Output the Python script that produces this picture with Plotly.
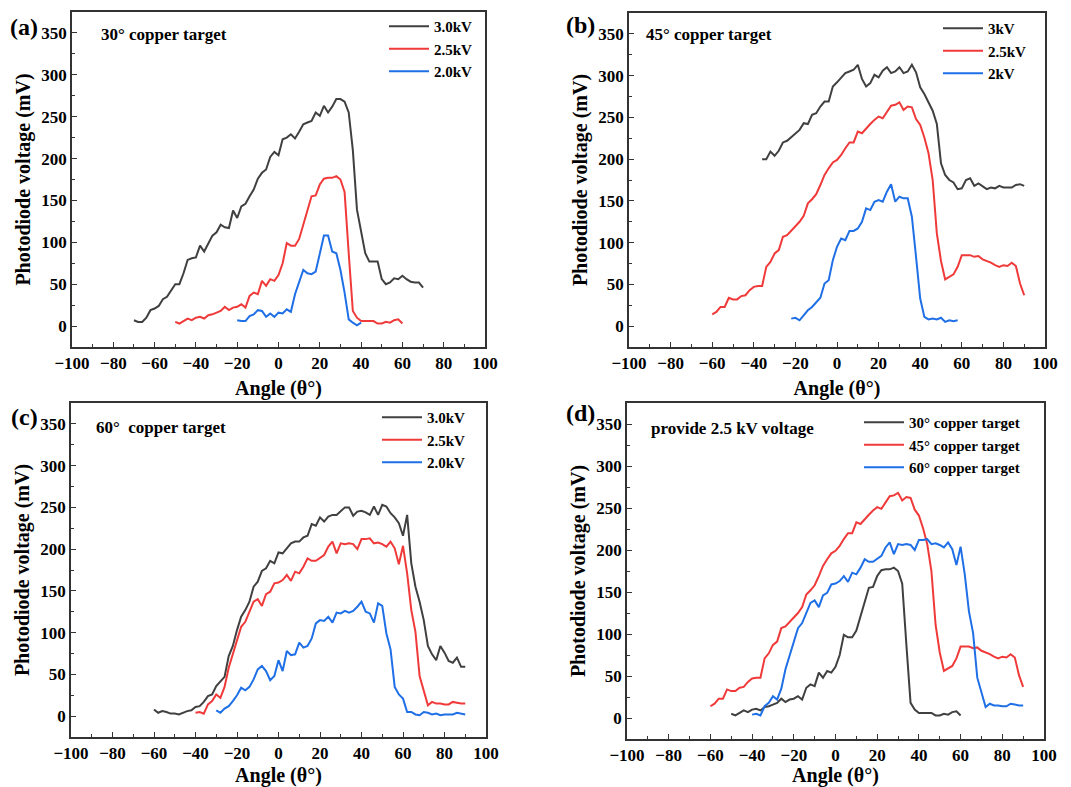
import plotly.graph_objects as go

# ---------------- data (angle in degrees, photodiode voltage in mV) ----------------
STEP = 2

a_start_30, a_start_25, a_start_20 = -70, -50, -20
a_v30 = [7, 5, 5, 10, 19, 21, 24, 32, 35, 42, 50, 50, 63, 79, 81, 82, 96, 89, 99, 108,
         112, 121, 118, 117, 138, 129, 143, 146, 155, 163, 176, 183, 187, 202, 208, 204,
         223, 225, 229, 224, 232, 241, 243, 245, 255, 251, 263, 255, 262, 271, 271, 268,
         255, 210, 139, 111, 87, 77, 77, 77, 56, 50, 52, 57, 56, 60, 56, 53, 52, 52, 46]
a_v25 = [5, 3, 6, 9, 7, 10, 11, 9, 13, 14, 16, 18, 23, 19, 22, 23, 26, 22, 36, 40,
         38, 54, 48, 56, 54, 61, 75, 99, 96, 96, 104, 121, 141, 155, 156, 169, 176, 177, 177, 179,
         175, 160, 87, 18, 10, 6, 6, 6, 6, 3, 3, 5, 4, 7, 8, 3]
a_v20 = [7, 6, 6, 12, 14, 19, 18, 11, 15, 11, 16, 15, 20, 17, 38, 52, 67, 63, 62, 65,
         87, 108, 108, 89, 87, 67, 40, 8, 4, 1, 4]

b_start_30, b_start_25, b_start_20 = -36, -60, -22
b_v30 = [200, 200, 209, 204, 210, 220, 222, 226, 231, 235, 243, 242, 253, 255, 263, 269, 269, 287, 292, 298,
         303, 305, 307, 313, 296, 287, 291, 301, 298, 306, 310, 303, 305, 310, 303, 305, 313, 304, 286, 278,
         268, 258, 242, 195, 181, 175, 172, 164, 165, 175, 177, 168, 171, 167, 164, 166, 165, 168, 166, 166,
         166, 169, 170, 168]
b_v25 = [14, 17, 23, 23, 34, 32, 32, 36, 37, 43, 47, 48, 48, 71, 77, 87, 91, 107, 109, 114,
         119, 125, 132, 147, 152, 158, 169, 181, 189, 196, 199, 205, 213, 220, 220, 233, 231, 237, 242, 247,
         251, 249, 257, 264, 265, 268, 259, 263, 262, 248, 241, 226, 207, 175, 111, 78, 56, 59, 62, 71,
         85, 85, 85, 83, 84, 80, 78, 76, 73, 71, 73, 72, 76, 72, 51, 37]
b_v20 = [9, 10, 7, 13, 19, 23, 28, 34, 51, 55, 79, 95, 105, 103, 114, 114, 117, 125, 141, 139,
         149, 151, 149, 161, 170, 149, 155, 153, 153, 131, 83, 33, 11, 8, 9, 8, 10, 5, 7, 6, 7]

c_start_30, c_start_25, c_start_20 = -60, -40, -30
c_v30 = [8, 4, 6, 5, 3, 3, 2, 4, 6, 7, 11, 12, 17, 24, 26, 36, 41, 47, 72, 84,
         103, 119, 127, 137, 155, 161, 174, 177, 186, 183, 196, 195, 201, 207, 209, 209, 214, 216, 230, 228,
         238, 233, 239, 241, 241, 245, 250, 250, 240, 245, 246, 244, 241, 251, 241, 253, 251, 243, 238, 231,
         216, 241, 183, 155, 137, 115, 84, 74, 67, 84, 76, 66, 64, 70, 59, 59]
c_v25 = [4, 5, 3, 14, 18, 26, 22, 35, 58, 74, 89, 107, 113, 125, 137, 140, 132, 146, 149, 159,
         160, 163, 169, 162, 173, 171, 179, 189, 186, 186, 189, 193, 203, 209, 195, 207, 206, 207, 206, 200,
         212, 212, 213, 207, 208, 206, 203, 209, 201, 182, 204, 171, 127, 101, 48, 30, 13, 17, 15, 15,
         14, 14, 17, 16, 15, 15]
c_v20 = [7, 4, 9, 12, 18, 25, 34, 31, 35, 44, 56, 60, 54, 43, 48, 67, 54, 78, 73, 74,
         88, 82, 84, 93, 111, 115, 114, 119, 112, 124, 123, 126, 124, 126, 131, 137, 125, 123, 112, 135,
         132, 99, 80, 35, 26, 21, 5, 5, 2, 1, 5, 4, 2, 3, 1, 2, 2, 2, 4, 3, 2]

x_ticks = [-100, -80, -60, -40, -20, 0, 20, 40, 60, 80, 100]
y_ticks = [0, 50, 100, 150, 200, 250, 300, 350]

panel_labels = ["(a)", "(b)", "(c)", "(d)"]
panel_notes = ["30° copper target", "45° copper target", "60°  copper target", "provide 2.5 kV voltage"]
legend_names = [["3.0kV", "2.5kV", "2.0kV"], ["3kV", "2.5kV", "2kV"], ["3.0kV", "2.5kV", "2.0kV"],
                ["30° copper target", "45° copper target", "60° copper target"]]


def angles(start, values):
    return [start + STEP * i for i in range(len(values))]


panels = [
    [(a_start_30, a_v30), (a_start_25, a_v25), (a_start_20, a_v20)],
    [(b_start_30, b_v30), (b_start_25, b_v25), (b_start_20, b_v20)],
    [(c_start_30, c_v30), (c_start_25, c_v25), (c_start_20, c_v20)],
    [(a_start_25, a_v25), (b_start_25, b_v25), (c_start_25, c_v25)],
]

# ---------------- styling / layout ----------------
PAGE_W, PAGE_H = 1071, 787
OFF = 8  # default page body margin
W, H = PAGE_W - OFF, PAGE_H - OFF
COLORS = ["#404040", "#f03a3a", "#1f6fe6"]
FONT = "Liberation Serif"


def fx(px):
    return (px - OFF) / W


def fy(py):
    return 1 - (py - OFF) / H


# plot boxes in page pixels: (left, right, top, bottom)
boxes = [(72, 485, 12, 347), (629, 1045, 13, 347), (71, 486, 403, 737), (627, 1044, 403, 739)]
legend_pos = [(384, 10), (938, 12), (377, 401), (859, 406)]
note_pos = [(99, 34), (644, 35), (94, 427), (649, 428)]
label_pos = [(24, 27), (580, 25), (24, 417), (580, 413)]

fig = go.Figure()
layout = dict(
    width=W, height=H,
    margin=dict(l=0, r=0, t=0, b=0, autoexpand=False),
    paper_bgcolor="white", plot_bgcolor="white",
    showlegend=True,
    annotations=[],
)

for p, series in enumerate(panels):
    sfx = "" if p == 0 else str(p + 1)
    lg = "legend" if p == 0 else f"legend{p + 1}"
    for k, (start, vals) in enumerate(series):
        fig.add_trace(go.Scatter(
            x=angles(start, vals), y=vals, mode="lines",
            line=dict(color=COLORS[k], width=2),
            name=legend_names[p][k],
            xaxis=f"x{sfx}", yaxis=f"y{sfx}", legend=lg,
        ))
    l, r, t, b = boxes[p]
    axis_common = dict(
        showline=True, mirror=True, linecolor="#333333", linewidth=1.5,
        ticks="inside", ticklen=5, tickwidth=1.2, tickcolor="#333333",
        showgrid=False, zeroline=False, automargin=False,
        tickfont=dict(family=FONT, size=17, color="black", weight="bold"),
        title_font=dict(family=FONT, size=20, color="black", weight="bold"),
    )
    layout[f"xaxis{sfx}"] = dict(
        axis_common, domain=[fx(l), fx(r)], range=[-100, 100],
        tickvals=x_ticks, anchor=f"y{sfx}",
        minor=dict(dtick=10, ticks="inside", ticklen=3, tickcolor="#333333", tick0=0),
        title=dict(text="Angle (θ°)", standoff=9),
    )
    layout[f"yaxis{sfx}"] = dict(
        axis_common, domain=[fy(b), fy(t)], range=[-25, 375],
        tickvals=y_ticks, anchor=f"x{sfx}",
        minor=dict(dtick=25, ticks="inside", ticklen=3, tickcolor="#333333", tick0=0),
        title=dict(text="Photodiode voltage (mV)", standoff=5),
    )
    lx, ly = legend_pos[p]
    layout[lg] = dict(
        x=fx(lx), y=fy(ly), xanchor="left", yanchor="top",
        bgcolor="rgba(0,0,0,0)", borderwidth=0,
        font=dict(family=FONT, size=15, color="black", weight="bold"),
        itemwidth=40, tracegroupgap=0,
    )
    nx, ny = note_pos[p]
    layout["annotations"].append(dict(
        x=fx(nx), y=fy(ny), xref="paper", yref="paper", xanchor="left", yanchor="middle",
        text=panel_notes[p], showarrow=False,
        font=dict(family=FONT, size=17, color="black", weight="bold"),
    ))
    px_, py_ = label_pos[p]
    layout["annotations"].append(dict(
        x=fx(px_), y=fy(py_), xref="paper", yref="paper", xanchor="center", yanchor="middle",
        text=panel_labels[p], showarrow=False,
        font=dict(family=FONT, size=24, color="black", weight="bold"),
    ))

fig.update_layout(**layout)
fig.write_html("out.html")
